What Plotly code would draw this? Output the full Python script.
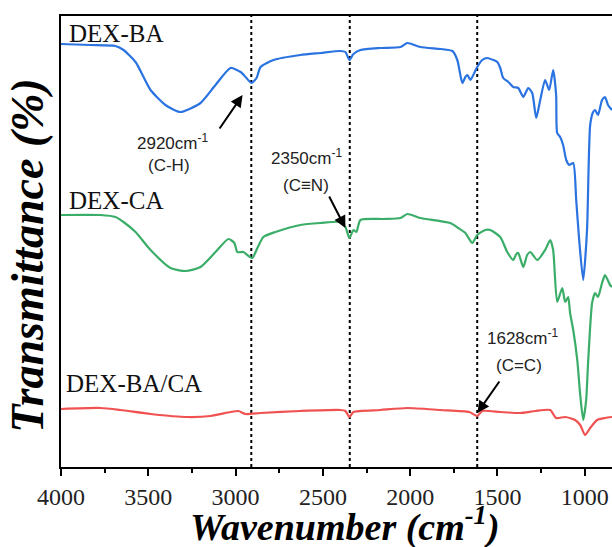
import plotly.graph_objects as go

# ---- data (wavenumber cm-1, transmittance in arbitrary offset units) ----
ba_wn = [4000, 3831, 3688, 3642, 3573, 3487, 3402, 3316, 3201, 3115, 3029, 2971, 2938, 2909, 2880, 2857,
         2783, 2629, 2514, 2400, 2371, 2348, 2325, 2285, 2171, 2056, 2016, 1942, 1827, 1758, 1730, 1701,
         1684, 1672, 1655, 1633, 1616, 1587, 1559, 1524, 1501, 1484, 1467, 1438, 1410, 1381, 1352, 1324,
         1301, 1278, 1255, 1227, 1204, 1181, 1164, 1158, 1141, 1124, 1106, 1089, 1066, 1049, 1032, 1009,
         987, 969, 952, 941, 924, 901, 884, 867, 844]
ba_t = [423, 422, 421, 417, 405, 377, 362, 355, 364, 382, 399, 395, 389, 384, 389, 400,
        407, 412, 414, 416, 415, 407, 413, 417, 419, 420, 424, 420, 418, 416, 407, 384,
        390, 392, 387, 394, 400, 407, 409, 407, 405, 399, 389, 385, 380, 379, 370, 379,
        374, 349, 367, 387, 377, 397, 372, 334, 330, 322, 307, 302, 304, 267, 227, 187,
        237, 342, 355, 357, 352, 367, 370, 362, 357]

ca_wn = [4000, 3774, 3688, 3642, 3573, 3487, 3373, 3287, 3201, 3115, 3041, 3007, 2990, 2955, 2933, 2904,
         2875, 2841, 2772, 2629, 2514, 2400, 2371, 2348, 2325, 2308, 2285, 2154, 2056, 2016, 1942, 1771,
         1724, 1684, 1644, 1616, 1570, 1541, 1484, 1444, 1410, 1392, 1381, 1352, 1330, 1312, 1272, 1227,
         1198, 1181, 1158, 1129, 1112, 1095, 1084, 1066, 1043, 1026, 1009, 992, 981, 958, 941, 924,
         901, 884, 855, 844]
ca_t = [252, 252, 250, 245, 235, 217, 199, 196, 200, 215, 228, 224, 215, 215, 212, 209,
        219, 230, 235, 242, 244, 245, 240, 229, 237, 235, 247, 248, 249, 253, 249, 244,
        239, 234, 224, 232, 237, 237, 230, 215, 207, 213, 214, 200, 212, 215, 207, 217,
        227, 217, 165, 179, 165, 170, 154, 137, 107, 72, 47, 67, 104, 164, 174, 170,
        184, 192, 182, 180]

bc_wn = [4000, 3774, 3659, 3487, 3275, 3144, 3029, 2984, 2943, 2857, 2629, 2400, 2371, 2348, 2325, 2171,
         2016, 1827, 1661, 1616, 1587, 1484, 1370, 1284, 1198, 1164, 1112, 1055, 1026, 998, 969, 929,
         884, 844]
bc_t = [58, 59, 57, 53, 50, 51, 55, 56, 53, 54, 56, 57, 56, 50, 55, 57,
        59, 57, 55, 51, 56, 55, 54, 56, 57, 49, 50, 47, 42, 32, 39, 47,
        49, 50]

series_names = ["DEX-BA", "DEX-CA", "DEX-BA/CA"]
series_colors = ["#2a73e0", "#3aae68", "#f05252"]
marker_wn = [2910, 2346, 1616]
peak_labels = ["2920cm<sup>-1</sup>", "2350cm<sup>-1</sup>", "1628cm<sup>-1</sup>"]
bond_labels = ["(C-H)", "(C≡N)", "(C=C)"]
x_ticks = [4000, 3500, 3000, 2500, 2000, 1500, 1000]

fig = go.Figure()
for wn, t, name, col in zip([ba_wn, ca_wn, bc_wn], [ba_t, ca_t, bc_t], series_names, series_colors):
    fig.add_trace(go.Scatter(x=wn, y=t, mode="lines", name=name, hoverinfo="skip",
                             line=dict(color=col, width=2.2, shape="spline", smoothing=0.6)))

for w in marker_wn:
    fig.add_shape(type="line", x0=w, x1=w, xref="x", y0=0, y1=1, yref="paper",
                  line=dict(color="black", width=2, dash="dot"), layer="below")

serif = "Liberation Serif, Times New Roman, serif"
sans = "Liberation Sans, Arial, sans-serif"

# series labels
for name, lx, ly in zip(series_names, [3963, 3963, 3985], [434, 267, 84]):
    fig.add_annotation(x=lx, y=ly, text=name, showarrow=False, xanchor="left", yanchor="middle",
                       font=dict(family=serif, size=25, color="#111"))

# peak annotations
peak_pos = [(3361, 325, 3384, 302), (2594, 310, 2594, 282), (1357, 130, 1374, 102)]
for (px, py, bx, by), pl, bl in zip(peak_pos, peak_labels, bond_labels):
    fig.add_annotation(x=px, y=py, text=pl, showarrow=False, xanchor="center", yanchor="middle",
                       font=dict(family=sans, size=17, color="#222"))
    fig.add_annotation(x=bx, y=by, text=bl, showarrow=False, xanchor="center", yanchor="middle",
                       font=dict(family=sans, size=17, color="#222"))

# arrows
arrow_tips = [(2960, 372, -24, 35), (2371, 239, -17, -33), (1615, 54, 23, -33)]
for tx, ty, ax, ay in arrow_tips:
    fig.add_annotation(x=tx, y=ty, ax=ax, ay=ay, text="", showarrow=True,
                       arrowhead=2, arrowsize=1.2, arrowwidth=2, arrowcolor="black")

# axis titles
fig.add_annotation(x=0.515, y=-0.128, xref="paper", yref="paper",
                   text="<b><i>Wavenumber (cm<sup>-1</sup>)</i></b>",
                   showarrow=False, xanchor="center", yanchor="middle",
                   font=dict(family=serif, size=38, color="black"))
fig.add_annotation(x=-0.062, y=0.47, xref="paper", yref="paper", text="<b><i>Transmittance (%)</i></b>",
                   showarrow=False, textangle=-90, xanchor="center", yanchor="middle",
                   font=dict(family=serif, size=46, color="black"))

fig.update_layout(
    width=612, height=547,
    margin=dict(l=61, r=0, t=16, b=80, autoexpand=False),
    paper_bgcolor="white", plot_bgcolor="white",
    showlegend=False, hovermode=False,
    xaxis=dict(range=[4000, 844], tickvals=x_ticks, ticks="outside", ticklen=7, tickwidth=2,
               tickcolor="black", showline=True, linecolor="black", linewidth=2, mirror=True,
               showgrid=False, zeroline=False, automargin=False,
               tickfont=dict(family=serif, size=24, color="#222"),
               minor=dict(dtick=250, tick0=0, ticks="outside", ticklen=4, tickwidth=2, tickcolor="black")),
    yaxis=dict(range=[0, 451], showticklabels=False, ticks="", showline=True, linecolor="black",
               linewidth=2, mirror=False, showgrid=False, zeroline=False, automargin=False),
)

fig.write_html("out.html", config={"displayModeBar": False},
               post_script="document.body.style.margin='0';document.body.style.padding='0';")
